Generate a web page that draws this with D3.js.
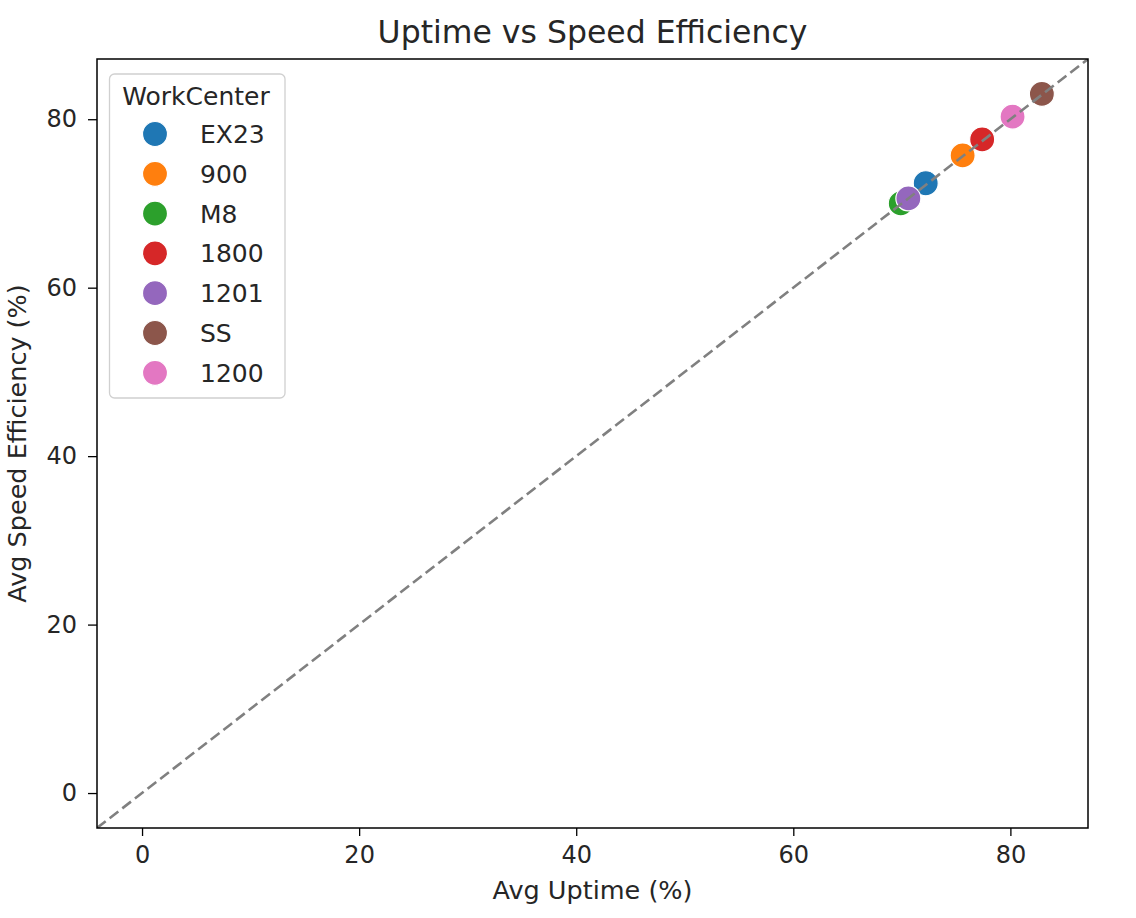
<!DOCTYPE html>
<html><head><meta charset="utf-8">
<script src="https://cdn.jsdelivr.net/npm/d3@7"></script>
<style>body{margin:0;background:#fff;} text{font-family:"DejaVu Sans",sans-serif;}</style>
</head><body>
<svg id="chart" width="1136" height="918"></svg>
<script>
const workCenters = ["EX23","900","M8","1800","1201","SS","1200"];
const avgUptime = [72.2, 75.6, 69.9, 77.4, 70.6, 82.9, 80.2];
const avgSpeedEff = [72.4, 75.7, 70.0, 77.6, 70.6, 83.0, 80.3];
const colors = ["#1f77b4","#ff7f0e","#2ca02c","#d62728","#9467bd","#8c564b","#e377c2"];
const ticks = [0,20,40,60,80];

const svg = d3.select("#chart");
const L=97, R=1088, T=59, B=828;
const maxV = d3.max(avgUptime.concat(avgSpeedEff));
const pad = maxV*0.05;
const dom = [0-pad, maxV+pad];
const x = d3.scaleLinear().domain(dom).range([L,R]);
const y = d3.scaleLinear().domain(dom).range([B,T]);

svg.append("defs").append("clipPath").attr("id","clip")
  .append("rect").attr("x",L).attr("y",T).attr("width",R-L).attr("height",B-T);

const data = workCenters.map((w,i)=>({w, x:avgUptime[i], y:avgSpeedEff[i], c:colors[i]}));

const g = svg.append("g").attr("clip-path","url(#clip)");
g.selectAll("circle").data(data).enter().append("circle")
  .attr("cx",d=>x(d.x)).attr("cy",d=>y(d.y)).attr("r",12.5)
  .attr("fill",d=>d.c).attr("stroke","#fff").attr("stroke-width",1.2);

g.append("line").attr("x1",x(dom[0])).attr("y1",y(dom[0])).attr("x2",x(dom[1])).attr("y2",y(dom[1]))
  .attr("stroke","#808080").attr("stroke-width",2.6).attr("stroke-dasharray","11,5");

const xAxis = svg.append("g").attr("transform",`translate(0,${B})`)
  .call(d3.axisBottom(x).tickValues(ticks).tickSize(8).tickPadding(10).tickFormat(d3.format("d")));
const yAxis = svg.append("g").attr("transform",`translate(${L},0)`)
  .call(d3.axisLeft(y).tickValues(ticks).tickSize(9).tickPadding(11).tickFormat(d3.format("d")));
[xAxis,yAxis].forEach(a=>{
  a.select(".domain").remove();
  a.selectAll(".tick line").attr("stroke","#000").attr("stroke-width",1.3);
  a.selectAll(".tick text").attr("font-size",24).attr("fill","#262626").style("font-family","DejaVu Sans");
});
svg.append("rect").attr("x",L).attr("y",T).attr("width",R-L).attr("height",B-T)
  .attr("fill","none").attr("stroke","#000").attr("stroke-width",1.5);

svg.append("text").attr("x",(L+R)/2).attr("y",43).attr("text-anchor","middle")
  .attr("font-size",31.5).attr("fill","#262626").text("Uptime vs Speed Efficiency");
svg.append("text").attr("x",(L+R)/2).attr("y",899).attr("text-anchor","middle")
  .attr("font-size",25.5).attr("fill","#262626").text("Avg Uptime (%)");
svg.append("text").attr("transform",`translate(26,${(T+B)/2}) rotate(-90)`).attr("text-anchor","middle")
  .attr("font-size",25.5).attr("fill","#262626").text("Avg Speed Efficiency (%)");

// legend
const lg = svg.append("g");
lg.append("rect").attr("x",109.5).attr("y",74).attr("width",175.5).attr("height",324).attr("rx",5)
  .attr("fill","#fff").attr("fill-opacity",0.8).attr("stroke","#d0d0d0").attr("stroke-width",1.3);
lg.append("text").attr("x",196).attr("y",105).attr("text-anchor","middle").attr("font-size",25)
  .attr("fill","#262626").text("WorkCenter");
const items = lg.selectAll("g.item").data(data).enter().append("g")
  .attr("transform",(d,i)=>`translate(0,${134+i*39.8})`);
items.append("circle").attr("cx",155).attr("cy",0).attr("r",12.5).attr("fill",d=>d.c)
  .attr("stroke","#fff").attr("stroke-width",1.2);
items.append("text").attr("x",200).attr("y",9).attr("font-size",25).attr("fill","#262626").text(d=>d.w);
</script>
</body></html>
